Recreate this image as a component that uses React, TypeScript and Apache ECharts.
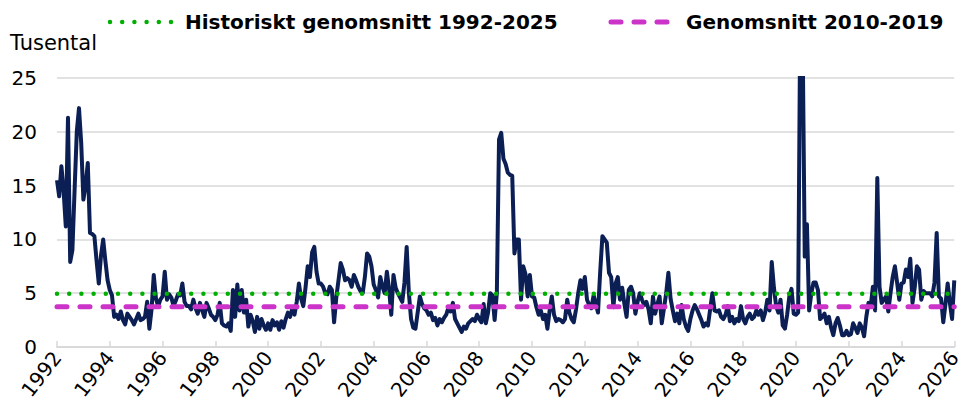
import React, { useEffect, useRef } from "react";
import * as echarts from "echarts";

// Monthly values (thousands), Jan 1992 – Jan 2026
const values: number[] = [
  // 1992
  15.5, 14.0, 16.8, 14.5, 11.2, 21.3, 7.9, 9.0, 14.6, 20.0, 22.2, 19.0,
  // 1993
  13.7, 15.0, 17.1, 10.6, 10.5, 10.3, 8.0, 5.9, 8.5, 10.0, 8.0, 6.2,
  // 1994
  5.3, 4.8, 2.8, 3.0, 2.6, 3.3, 2.5, 2.1, 3.1, 2.8, 2.5, 2.1,
  // 1995
  2.6, 3.1, 2.5, 2.6, 2.8, 4.2, 1.7, 3.5, 6.7, 4.5, 3.8, 4.4,
  // 1996
  4.7, 7.0, 4.4, 4.9, 4.6, 3.8, 4.3, 4.9, 4.8, 5.9, 4.2, 3.8,
  // 1997
  3.8, 3.5, 4.4, 3.6, 3.1, 4.1, 3.4, 2.8, 4.1, 3.6, 3.0, 2.8,
  // 1998
  2.5, 3.0, 4.1, 2.2, 2.0, 1.9, 2.2, 1.5, 5.3, 2.8, 5.8, 3.4,
  // 1999
  5.3, 3.2, 4.4, 1.9, 3.0, 2.4, 1.4, 2.8, 1.7, 2.6, 2.0, 1.6,
  // 2000
  2.2, 1.6, 2.5, 2.0, 2.3, 1.6, 2.4, 1.8, 2.6, 3.2, 2.8, 3.6,
  // 2001
  3.0, 4.2, 5.9, 4.5, 3.8, 5.5, 7.5, 6.5, 8.8, 9.3, 7.0, 5.9,
  // 2002
  5.9, 5.6, 5.0, 4.9, 5.6, 5.3, 2.3, 4.6, 6.2, 7.8, 7.2, 6.2,
  // 2003
  6.4, 6.2, 5.6, 6.7, 6.2, 5.6, 5.2, 5.0, 6.5, 8.7, 8.4, 7.5,
  // 2004
  5.8, 5.3, 4.6, 6.5, 5.6, 5.0, 7.0, 5.4, 3.0, 6.7, 5.5, 5.0,
  // 2005
  4.6, 4.2, 6.0, 9.3, 5.0, 2.6, 1.8, 1.7, 3.2, 4.7, 4.0, 3.6,
  // 2006
  3.4, 3.0, 3.2, 2.5, 2.7, 2.0, 2.6, 2.3, 2.7, 3.0, 3.7, 3.3,
  // 2007
  4.1, 2.6, 2.2, 1.8, 1.4, 1.9, 1.7, 2.2, 2.4, 2.6, 2.4, 3.0,
  // 2008
  2.6, 2.3, 4.0, 2.2, 3.2, 5.0, 4.8, 2.5, 5.0, 19.3, 19.9, 17.5,
  // 2009
  17.0, 16.2, 16.0, 15.9, 8.7, 10.0, 10.0, 4.4, 7.5, 6.8, 4.7, 6.7,
  // 2010
  4.7, 4.6, 3.7, 3.0, 3.4, 2.6, 3.0, 1.7, 3.4, 4.7, 3.0, 2.4,
  // 2011
  2.6, 2.5, 2.3, 2.6, 4.4, 3.2, 2.6, 2.3, 3.5, 5.0, 6.2, 5.4,
  // 2012
  6.5, 4.4, 3.9, 3.6, 4.8, 4.0, 3.2, 7.0, 10.3, 10.0, 9.7, 6.9,
  // 2013
  6.5, 3.7, 5.9, 6.5, 4.4, 5.5, 4.0, 2.8, 5.3, 5.6, 5.0, 3.1,
  // 2014
  4.2, 5.0, 4.4, 3.9, 4.2, 3.5, 2.2, 4.7, 3.1, 4.0, 4.7, 2.2,
  // 2015
  3.6, 5.0, 6.9, 4.5, 3.4, 2.4, 3.1, 2.2, 3.9, 2.6, 1.9, 1.5,
  // 2016
  2.6, 3.4, 3.9, 3.5, 3.0, 2.5, 1.9, 2.2, 2.0, 3.5, 5.0, 3.4,
  // 2017
  3.3, 3.4, 2.8, 2.6, 3.0, 3.8, 2.4, 2.8, 2.2, 2.6, 2.4, 3.8,
  // 2018
  2.6, 2.2, 2.8, 3.1, 2.6, 2.8, 3.4, 3.0, 3.4, 2.5, 3.2, 4.4,
  // 2019
  3.4, 7.9, 5.5, 3.8, 3.2, 4.4, 2.0, 1.7, 3.0, 4.7, 5.4, 3.1,
  // 2020
  3.0, 3.2, 32.0, 30.0, 8.4, 11.4, 3.4, 5.0, 6.0, 6.0, 5.3, 2.6,
  // 2021
  2.8, 3.1, 2.2, 2.8, 1.8, 1.1, 2.2, 2.7, 2.0, 1.1, 1.1, 1.5,
  // 2022
  1.1, 1.2, 2.2, 1.8, 1.3, 2.2, 1.8, 1.0, 2.8, 4.1, 3.8, 5.6,
  // 2023
  3.4, 15.7, 5.6, 4.1, 4.4, 4.7, 3.3, 5.0, 6.5, 7.5, 6.0, 4.4,
  // 2024
  5.9, 6.0, 7.2, 6.5, 8.2, 4.1, 5.5, 7.5, 7.2, 4.4, 5.2, 5.0,
  // 2025
  5.0, 5.0, 4.7, 6.0, 10.6, 4.7, 4.5, 2.3, 4.0, 5.9, 4.1, 2.6,
  // 2026
  6.2,
];

const startYear = 1992;
const endYear = 2026;
const historicalAverage = 4.95; // 1992-2025
const decadeAverage = 3.75; // 2010-2019

const legendLabels = ["Historiskt genomsnitt 1992-2025", "Genomsnitt 2010-2019"];
const unitLabel = "Tusental";

const FONT = "DejaVu Sans";

export default function App() {
  const ref = useRef<HTMLDivElement>(null);

  useEffect(() => {
    if (!ref.current) return;
    const chart = echarts.init(ref.current, undefined, { renderer: "svg" });

    const mainData = values.map((v, i) => [startYear + i / 12, v]);
    const histData = [
      [startYear, historicalAverage],
      [endYear, historicalAverage],
    ];
    const decData = [
      [startYear, decadeAverage],
      [endYear, decadeAverage],
    ];

    chart.setOption({
      animation: false,
      backgroundColor: "#ffffff",
      textStyle: { fontFamily: FONT },
      grid: { left: 57, right: 5, top: 78, bottom: 67, containLabel: false },
      xAxis: {
        type: "value",
        min: startYear,
        max: endYear,
        interval: 2,
        axisLine: { show: true, lineStyle: { color: "#d9d9d9", width: 2 } },
        axisTick: { show: true, inside: true, length: 6, lineStyle: { color: "#d9d9d9", width: 1.5 } },
        splitLine: { show: false },
        axisLabel: {
          rotate: 52,
          fontSize: 20,
          color: "#000",
          fontFamily: FONT,
          margin: 7,
          formatter: (v: number) => String(Math.round(v)),
        },
      },
      yAxis: {
        type: "value",
        min: 0,
        max: 25,
        interval: 5,
        axisLine: { show: false },
        axisTick: { show: false },
        splitLine: { show: true, lineStyle: { color: "#d9d9d9", width: 1.5 } },
        axisLabel: { fontSize: 20, color: "#000", fontFamily: FONT, margin: 20 },
      },
      graphic: [
        {
          type: "text",
          left: 10,
          top: 32,
          style: { text: unitLabel, font: `21px "${FONT}"`, fill: "#000" },
        },
        {
          type: "line",
          shape: { x1: 110, y1: 22, x2: 171, y2: 22 },
          style: { stroke: "#00b000", lineWidth: 4.5, lineDash: [0, 12.2], lineCap: "round" },
        },
        {
          type: "text",
          x: 185,
          y: 22,
          style: {
            text: legendLabels[0],
            font: `bold 20px "${FONT}"`,
            fill: "#000",
            textVerticalAlign: "middle",
            verticalAlign: "middle",
          },
        },
        {
          type: "line",
          shape: { x1: 611, y1: 22, x2: 668, y2: 22 },
          style: { stroke: "#cc33c8", lineWidth: 5, lineDash: [10, 13], lineCap: "round" },
        },
        {
          type: "text",
          x: 686,
          y: 22,
          style: {
            text: legendLabels[1],
            font: `bold 20px "${FONT}"`,
            fill: "#000",
            textVerticalAlign: "middle",
            verticalAlign: "middle",
          },
        },
      ],
      series: [
        {
          name: "Arbetslösa",
          type: "line",
          data: mainData,
          showSymbol: false,
          symbol: "none",
          clip: true,
          lineStyle: { color: "#0b1f55", width: 4, join: "round" },
          z: 2,
        },
        {
          name: legendLabels[0],
          type: "line",
          data: histData,
          showSymbol: false,
          symbol: "none",
          lineStyle: { color: "#00b000", width: 4.5, type: [0, 12.2], cap: "round" },
          z: 3,
        },
        {
          name: legendLabels[1],
          type: "line",
          data: decData,
          showSymbol: false,
          symbol: "none",
          lineStyle: { color: "#cc33c8", width: 5, type: [10, 13], cap: "round" },
          z: 3,
        },
      ],
    });

    return () => chart.dispose();
  }, []);

  return (
    <div
      ref={ref}
      style={{ position: "absolute", left: 0, top: 0, width: 964, height: 414 }}
    />
  );
}
